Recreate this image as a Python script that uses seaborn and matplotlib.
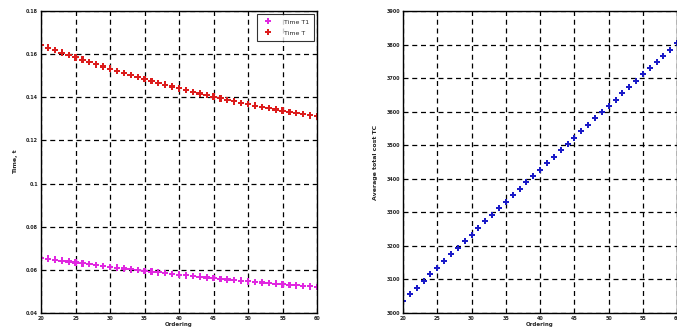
import numpy as np
import pandas as pd
import seaborn as sns
import matplotlib
matplotlib.use("Agg")
import matplotlib.pyplot as plt

# ordering parameter on the x axis (both panels)
order_x = list(range(20, 61))

# Time T1 (magenta) and Time T (red)
time_t1 = [0.0656, 0.06516, 0.06473, 0.06430, 0.06387, 0.06345, 0.06304, 0.06263,
           0.06223, 0.06183, 0.06144, 0.06105, 0.06067, 0.06029, 0.05992, 0.05955,
           0.05919, 0.05883, 0.05848, 0.05814, 0.05780, 0.05746, 0.05713, 0.05681,
           0.05649, 0.05618, 0.05587, 0.05556, 0.05526, 0.05497, 0.05468, 0.05440,
           0.05412, 0.05385, 0.05359, 0.05332, 0.05307, 0.05282, 0.05257, 0.05233,
           0.05210]
time_t = [0.1642, 0.16303, 0.16189, 0.16075, 0.15964, 0.15855, 0.15747, 0.15641,
          0.15536, 0.15434, 0.15333, 0.15234, 0.15136, 0.15041, 0.14947, 0.14855,
          0.14764, 0.14676, 0.14589, 0.14504, 0.14421, 0.14339, 0.14259, 0.14181,
          0.14105, 0.14030, 0.13957, 0.13886, 0.13817, 0.13749, 0.13683, 0.13619,
          0.13557, 0.13496, 0.13437, 0.13380, 0.13325, 0.13271, 0.13219, 0.13169,
          0.13121]

# average total cost TC, right panel
avg_tc = [3036.0, 3056.0, 3075.9, 3095.7, 3115.6, 3135.4, 3155.1, 3174.8, 3194.5,
          3214.2, 3233.8, 3253.3, 3272.9, 3292.3, 3311.8, 3331.2, 3350.6, 3369.9,
          3389.2, 3408.5, 3427.7, 3446.9, 3466.0, 3485.1, 3504.2, 3523.2, 3542.2,
          3561.1, 3580.0, 3598.9, 3617.8, 3636.5, 3655.3, 3674.0, 3692.7, 3711.3,
          3729.9, 3748.5, 3767.0, 3785.5, 3804.0]

left_yticks = [0.04, 0.06, 0.08, 0.1, 0.12, 0.14, 0.16, 0.18]
right_yticks = [3000, 3100, 3200, 3300, 3400, 3500, 3600, 3700, 3800, 3900]
xticks = [20, 25, 30, 35, 40, 45, 50, 55, 60]

sns.set_style("white")
plt.rcParams['font.family'] = ['DejaVu Sans']

df_time = pd.DataFrame({
    'x': order_x * 2,
    'time': time_t1 + time_t,
    'series': ['Time T1'] * len(order_x) + ['Time T'] * len(order_x),
})
df_tc = pd.DataFrame({'x': order_x, 'tc': avg_tc})

fig = plt.figure(figsize=(6.77, 3.31), dpi=100)
ax1 = fig.add_axes([0.0606, 0.0544, 0.4077, 0.912])
ax2 = fig.add_axes([0.5953, 0.0544, 0.405, 0.912])

sns.scatterplot(data=df_time, x='x', y='time', hue='series', ax=ax1,
                palette={'Time T1': '#e028e0', 'Time T': '#dc1c1c'},
                marker='P', s=22, linewidth=0)
sns.scatterplot(data=df_tc, x='x', y='tc', ax=ax2, color='#1a1ac8',
                marker='P', s=20, linewidth=0)

def style_axes(ax, yticks, ylabel, yfmt):
    ax.set_xlim(20, 60)
    ax.set_ylim(yticks[0], yticks[-1])
    ax.set_xticks(xticks)
    ax.set_yticks(yticks)
    ax.set_xticklabels([str(t) for t in xticks], fontsize=3.5, fontweight='bold')
    ax.set_yticklabels([yfmt(t) for t in yticks], fontsize=3.5, fontweight='bold')
    ax.grid(True, color='black', linestyle=(0, (4, 3)), linewidth=0.9)
    ax.tick_params(length=2, width=0.6, direction='in', pad=2)
    for sp in ax.spines.values():
        sp.set_color('black')
        sp.set_linewidth(1.0)
    ax.set_xlabel('Ordering', fontsize=4, fontweight='bold', labelpad=1)
    ax.set_ylabel(ylabel, fontsize=4.5, fontweight='bold', labelpad=6)

style_axes(ax1, left_yticks, 'Time, t', lambda t: '%g' % t)
style_axes(ax2, right_yticks, 'Average total cost TC', lambda t: '%d' % t)

leg = ax1.legend(loc='upper right', fontsize=4.5, frameon=True, fancybox=False,
                 edgecolor='black', borderpad=0.8, handletextpad=1.5,
                 labelspacing=0.9, markerscale=0.8, borderaxespad=0.5)
leg.get_frame().set_linewidth(0.8)

fig.savefig('out.png', dpi=100, facecolor='white')
